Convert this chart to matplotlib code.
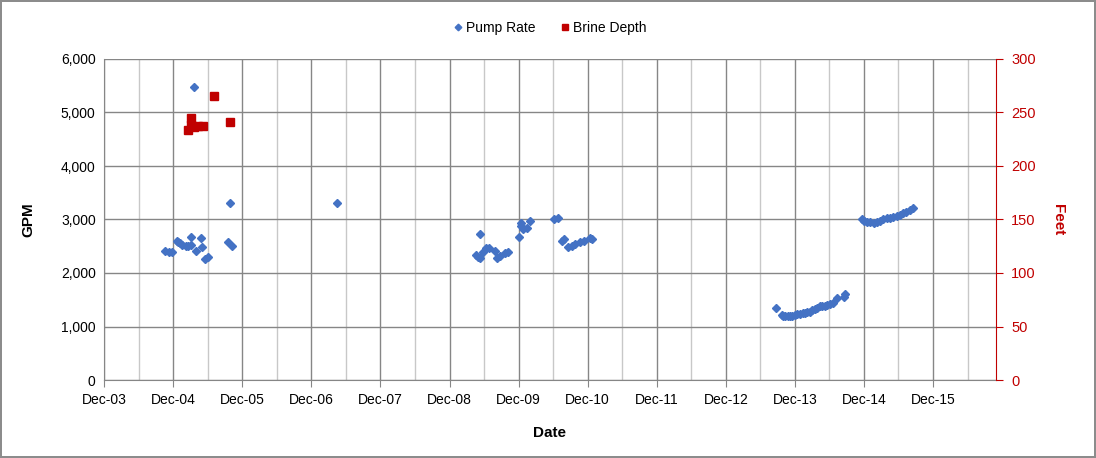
import matplotlib
matplotlib.use("Agg")
import matplotlib.pyplot as plt
import matplotlib.dates as mdates
import matplotlib.ticker as mticker
import pandas as pd

plt.rcParams['font.family'] = ['Liberation Sans', 'DejaVu Sans']

# pump rate (GPM)
pumpDates = [
    '2004-10-19', '2004-11-07', '2004-11-25', '2004-12-20', '2004-12-28', '2005-01-07',
    '2005-01-16', '2005-02-04', '2005-02-19', '2005-03-04', '2005-03-07', '2005-03-22',
    '2005-04-01', '2005-04-25', '2005-05-04', '2005-05-16', '2005-06-01', '2005-09-19',
    '2005-09-28', '2005-10-07',
    '2007-04-16',
    '2009-04-22', '2009-05-02', '2009-05-10', '2009-05-10', '2009-05-28', '2009-06-10',
    '2009-06-25', '2009-07-28', '2009-08-07', '2009-08-25', '2009-09-21', '2009-10-04',
    '2009-12-01', '2009-12-13', '2009-12-13', '2009-12-25', '2010-01-13', '2010-01-28',
    '2010-06-07', '2010-06-25', '2010-07-16', '2010-07-28', '2010-08-19', '2010-09-07',
    '2010-09-25', '2010-10-22', '2010-11-10', '2010-12-13', '2010-12-22',
    '2013-08-25', '2013-09-21', '2013-10-01', '2013-10-10', '2013-10-24', '2013-11-06',
    '2013-11-18', '2013-12-01', '2013-12-14', '2013-12-28', '2014-01-10', '2014-01-25',
    '2014-02-05', '2014-02-18', '2014-03-02', '2014-03-16', '2014-03-28', '2014-04-12',
    '2014-04-25', '2014-05-07', '2014-05-20', '2014-06-04', '2014-06-22', '2014-07-10',
    '2014-08-16', '2014-08-22',
    '2014-11-19', '2014-12-01', '2014-12-16', '2015-01-03', '2015-01-22', '2015-02-08',
    '2015-02-25', '2015-03-14', '2015-04-01', '2015-04-17', '2015-05-04', '2015-05-22',
    '2015-06-10', '2015-06-25', '2015-07-13', '2015-07-30', '2015-08-19',
]
pumpRate = [
    2417, 2400, 2400, 2600, 2585, 2555,
    2523, 2511, 2505, 2667, 2523, 5470,
    2417, 2648, 2493, 2256, 2293, 2573,
    3303, 2511,
    3303,
    2336, 2300, 2274, 2723, 2399, 2461,
    2474, 2411, 2286, 2324, 2368, 2399,
    2679, 2884, 2940, 2822, 2834, 2972,
    3009, 3034, 2598, 2636, 2493, 2511,
    2536, 2573, 2598, 2648, 2629,
    1340, 1215, 1205, 1196, 1196, 1196,
    1205, 1215, 1225, 1234, 1245, 1258,
    1265, 1277, 1300, 1321, 1350, 1383,
    1386, 1389, 1400, 1414, 1433, 1539,
    1558, 1601,
    3003, 2980, 2959, 2950, 2940, 2958,
    2978, 3000, 3021, 3037, 3053, 3068,
    3084, 3115, 3146, 3178, 3209,
]

# brine depth (feet)
brineDates = ['2005-02-19', '2005-03-07', '2005-03-07', '2005-03-20', '2005-04-13',
              '2005-05-07', '2005-07-07', '2005-09-25']
brineDepth = [234, 245, 238, 236, 237, 237, 265, 241]

pumpX = pd.to_datetime(pumpDates)
brineX = pd.to_datetime(brineDates)

blue = '#4472C4'
red = '#C00000'

fig = plt.figure(figsize=(10.96, 4.58), dpi=100, edgecolor='#8c8c8c', linewidth=1.5)
ax = fig.add_axes([104/1096, 78/458, 892/1096, 321/458])
ax2 = ax.twinx()

ax.plot(pumpX, pumpRate, 'D', color=blue, markersize=4.2, label='Pump Rate', zorder=3)
ax2.plot(brineX, brineDepth, 's', color=red, markersize=5.6, label='Brine Depth', zorder=3)

ax.set_xlim(pd.Timestamp('2003-12-01'), pd.Timestamp('2016-10-29'))
ax.set_ylim(0, 6000)
ax2.set_ylim(0, 300)

ax.xaxis.set_major_locator(mdates.MonthLocator(bymonth=12, bymonthday=1))
ax.xaxis.set_minor_locator(mdates.MonthLocator(bymonth=6, bymonthday=1))
ax.xaxis.set_major_formatter(mdates.DateFormatter('%b-%y'))
ax.yaxis.set_major_locator(mticker.MultipleLocator(1000))
ax.yaxis.set_major_formatter(mticker.StrMethodFormatter('{x:,.0f}'))
ax2.yaxis.set_major_locator(mticker.MultipleLocator(50))

ax.grid(True, which='major', axis='both', color='#868686', linewidth=1)
ax.grid(True, which='minor', axis='x', color='#c8c8c8', linewidth=1)
ax.set_axisbelow(True)

for a in (ax, ax2):
    a.spines['top'].set_visible(False)
ax.spines['left'].set_color('#868686')
ax.spines['bottom'].set_color('#868686')
ax.spines['right'].set_visible(False)
ax2.spines['left'].set_visible(False)
ax2.spines['bottom'].set_visible(False)
ax2.spines['right'].set_color(red)

ax.tick_params(axis='x', which='major', length=5, color='#868686', labelsize=10, pad=4)
ax.tick_params(axis='x', which='minor', length=0)
ax.tick_params(axis='y', length=0, labelsize=10, pad=6)
ax2.tick_params(axis='y', length=5, color=red, labelcolor=red, labelsize=10.5, pad=6)

ax.set_xlabel('Date', fontsize=11, fontweight='bold', labelpad=14)
ax.set_ylabel('GPM', fontsize=11, fontweight='bold', labelpad=18)
ax2.set_ylabel('Feet', fontsize=11, fontweight='bold', color=red, rotation=-90, labelpad=21)

h1, l1 = ax.get_legend_handles_labels()
h2, l2 = ax2.get_legend_handles_labels()
fig.legend(h1 + h2, l1 + l2, loc='center', bbox_to_anchor=(0.5, 1 - 28/458), ncol=2,
           frameon=False, fontsize=10, handletextpad=0.0, columnspacing=1.5,
           markerscale=0.8, handlelength=1.2)

fig.savefig('out.png', dpi=100)
